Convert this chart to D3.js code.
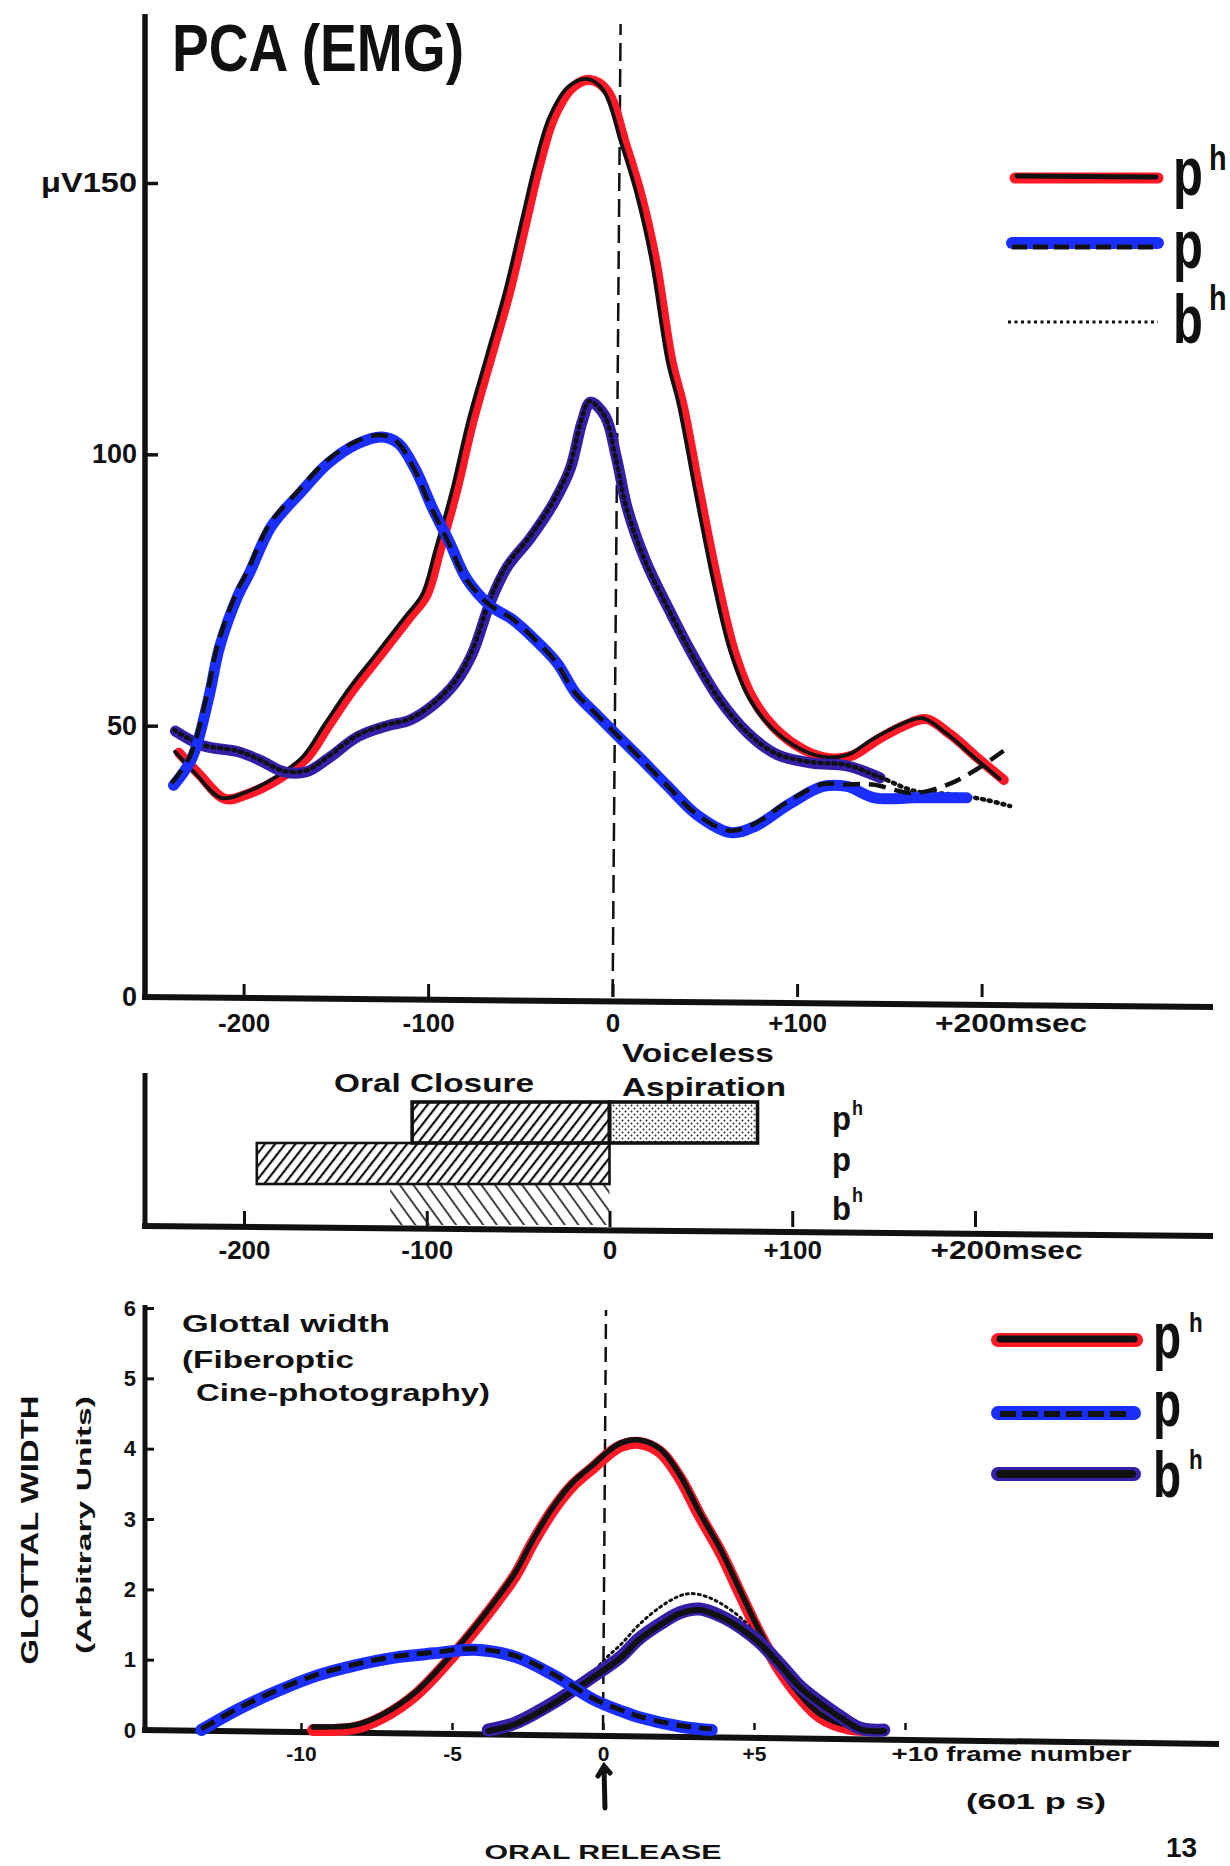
<!DOCTYPE html>
<html>
<head>
<meta charset="utf-8">
<title>PCA (EMG) and glottal width</title>
<script src="https://d3js.org/d3.v7.min.js"></script>
<style>
  body { margin: 0; background: #fff; }
  svg text { font-family: "Liberation Sans", Arial, sans-serif; font-weight: bold; fill: #111; }
</style>
</head>
<body>
<svg id="fig"></svg>
<script>

// ---- top panel: PCA EMG, time re oral release (msec) vs microvolts
var emgXTicks = [-200, -100, 0, 100, 200]
var emgXLabels = ['-200', '-100', '0', '+100', '+200msec']
var emgYTicks = [0, 50, 100, 150]
var emgYLabels = ['0', '50', '100', 'μV150']

var emgPh = [[-235,45],[-224,41],[-210,36.5],[-197,37.5],[-182,40],[-166,44],[-154,50],[-141,56.5],
  [-126,63],[-110,70],[-101,74],[-94,82],[-85,93],[-76,106],[-66,118],[-56,130],[-47,143],[-40,153],
  [-32,162],[-22,167.5],[-12,169],[-3,167],[7,157],[15,148],[23,136],[32,117],[38,109],[47,93],
  [57,76],[66,63.5],[76,55],[88,49.5],[104,45.5],[118,44],[130,44.5],[143,47.3],[158,50],[170,51.2],
  [183,48.4],[198,44],[212,40]]

var emgP = [[-238,39],[-228,44],[-219,55],[-213,64.5],[-203,74],[-197,78],[-185,86.7],[-169,93],
  [-154,98.4],[-138,102],[-125,103.2],[-116,102],[-107,97.3],[-97.5,90],[-88,83.5],[-79,77],[-66,72],
  [-54,69.5],[-41,65.5],[-30,61.5],[-20,56],[-10,52.5],[2,48.4],[15,44],[30,38.8],[46,33.5],[64,30.3],
  [77,31.4],[96,35.6],[114,38.8],[127,38.8],[142,36.7],[164,36.7],[192,36.7]]

// the dashed ink of p leaves the blue trace at the right end
var emgPTail = [[142,38.8],[164,37.2],[183,38.8],[198,41.5],[213,45]]

var emgBh = [[-237,49],[-222,46.3],[-203,45.2],[-191,43.6],[-178,41.5],[-166,41.5],[-154,44],[-138,48],
  [-122,50],[-110,51],[-97.5,53.7],[-85,58],[-76,63.3],[-66,73],[-57,79.3],[-44.5,84.6],[-32,91],
  [-23,97.3],[-16.5,106],[-12,109.6],[-4,107],[2,99.5],[8,90],[18,80.3],[30,71.8],[43,63.3],[58,54.8],
  [74,48.4],[89,44.7],[108,43.1],[127,42.6],[145,40.4],[164,37.8],[183,37.2],[202,36.2],[216,35]]

// ---- middle panel: oral closure / voiceless aspiration (msec)
var rowBase = ['p', 'p', 'b']
var rowSup = ['h', '', 'h']
var closureStart = [-108, -193, -120]
var aspirationEnd = [81, 0, 0]
var barXTicks = [-200, -100, 0, 100, 200]
var barXLabels = ['-200', '-100', '0', '+100', '+200msec']

// ---- bottom panel: glottal width vs frame number
var glotXTicks = [-10, -5, 0, 5, 10]
var glotXLabels = ['-10', '-5', '0', '+5', '+10 frame number']
var glotYTicks = [0, 1, 2, 3, 4, 5, 6]

var glotPh = [[-9.6,0],[-8.2,0.03],[-7.3,0.18],[-6.2,0.5],[-4.9,1.09],[-3.6,1.78],[-2.9,2.2],[-2.3,2.68],
  [-1.6,3.16],[-1.0,3.48],[-0.3,3.74],[0.2,3.93],[0.6,4.04],[1.2,4.08],[1.9,3.95],[2.55,3.58],[3.2,3.05],
  [3.9,2.52],[4.55,1.93],[5.2,1.35],[5.9,0.82],[6.55,0.45],[7.2,0.18],[8.15,0.02],[9.2,0]]

var glotP = [[-13.3,0],[-12.1,0.29],[-10.8,0.55],[-9.5,0.77],[-8.2,0.92],[-6.9,1.03],[-5.6,1.09],
  [-4.25,1.14],[-2.9,1.04],[-1.6,0.77],[-0.3,0.43],[0.6,0.27],[1.2,0.18],[2.55,0.05],[3.6,0]]

var glotBh = [[-3.8,0],[-2.9,0.1],[-1.6,0.4],[-0.3,0.77],[0.56,1.03],[1.2,1.3],[1.9,1.51],[2.55,1.67],
  [3.2,1.72],[3.9,1.62],[4.55,1.46],[5.2,1.24],[5.9,0.92],[6.55,0.61],[7.2,0.39],[7.9,0.18],[8.55,0.02],[9.3,0]]

var glotBhDots = [[-0.5,0.72],[0,0.98],[0.6,1.22],[1.2,1.5],[1.9,1.75],[2.5,1.9],[2.9,1.94],[3.4,1.9],
  [3.9,1.8],[4.6,1.58],[5.2,1.3]]


var RED = '#ff1826'
var BLUE = '#1a2eff'
var PURPLE = '#3320a8'

var svg = d3.select('#fig')
  .attr('width', 1230)
  .attr('height', 1866)
  .style('display', 'block')

svg.append('rect').attr('width', 1230).attr('height', 1866).attr('fill', '#fff')

var defs = svg.append('defs')

defs.append('pattern').attr('id', 'hatch')
  .attr('patternUnits', 'userSpaceOnUse').attr('width', 8).attr('height', 8)
  .attr('patternTransform', 'rotate(38)')
  .append('line').attr('x1', 1).attr('y1', 0).attr('x2', 1).attr('y2', 8)
  .attr('stroke', '#111').attr('stroke-width', 2.4)

defs.append('pattern').attr('id', 'hatchLight')
  .attr('patternUnits', 'userSpaceOnUse').attr('width', 11).attr('height', 11)
  .attr('patternTransform', 'rotate(-36)')
  .append('line').attr('x1', 1).attr('y1', 0).attr('x2', 1).attr('y2', 11)
  .attr('stroke', '#222').attr('stroke-width', 1.7)

var dots = defs.append('pattern').attr('id', 'dots')
  .attr('patternUnits', 'userSpaceOnUse').attr('width', 6).attr('height', 6)
dots.append('circle').attr('cx', 1.5).attr('cy', 1.5).attr('r', 0.95).attr('fill', '#222')
dots.append('circle').attr('cx', 4.5).attr('cy', 4.5).attr('r', 0.95).attr('fill', '#222')


function label(g, x, y, str, size, len, anchor) {
  var t = g.append('text')
    .attr('x', x).attr('y', y)
    .attr('font-size', size)
    .attr('text-anchor', anchor || 'start')
    .text(str)
  if (len) t.attr('textLength', len).attr('lengthAdjust', 'spacingAndGlyphs')
  return t
}

function trace(g, data, x, y, color, width, dash, dx, dy) {
  var line = d3.line()
    .x((d) => x(d[0]))
    .y((d) => y(d[1]))
    .curve(d3.curveCatmullRom.alpha(0.5))
  var p = g.append('path')
    .attr('d', line(data))
    .attr('fill', 'none')
    .attr('stroke', color)
    .attr('stroke-width', width)
    .attr('stroke-linejoin', 'round')
    .attr('stroke-linecap', dash ? 'butt' : 'round')
  if (dash) p.attr('stroke-dasharray', dash)
  if (dx || dy) p.attr('transform', 'translate(' + (dx || 0) + ',' + (dy || 0) + ')')
  return p
}

function rule(g, x1, y1, x2, y2, w, dash) {
  var l = g.append('line')
    .attr('x1', x1).attr('y1', y1).attr('x2', x2).attr('y2', y2)
    .attr('stroke', '#111').attr('stroke-width', w)
  if (dash) l.attr('stroke-dasharray', dash)
  return l
}

// big narrow legend letter with a raised h (squeezed by a scale, not textLength)
function legendLetter(g, x, y, base, size, sup, supSize, supDx, supDy) {
  g.append('text')
    .attr('transform', 'translate(' + x + ',' + y + ') scale(0.72,1)')
    .attr('font-size', size)
    .text(base)
  if (sup) {
    g.append('text')
      .attr('transform', 'translate(' + (x + supDx) + ',' + (y + supDy) + ') scale(0.8,1)')
      .attr('font-size', supSize)
      .text(sup)
  }
}


// ================= top panel =================
var emgG = svg.append('g')
var x1 = d3.scaleLinear().domain([-200, 200]).range([243.6, 981.6])
var y1 = d3.scaleLinear().domain([0, 150]).range([997, 183])

var xAxis1 = emgG.append('g')
  .attr('transform', 'translate(0,' + y1(0) + ')')
  .call(d3.axisBottom(x1).tickValues(emgXTicks).tickSize(-13).tickPadding(17)
    .tickFormat((d, i) => emgXLabels[i]))
xAxis1.select('.domain').remove()
xAxis1.selectAll('line').attr('stroke', '#111').attr('stroke-width', 3)
xAxis1.selectAll('text').attr('font-size', 26).attr('fill', '#111')
  .attr('font-family', null)
xAxis1.selectAll('text').filter((d) => d === 200)
  .attr('text-anchor', 'start').attr('x', -47)
  .attr('textLength', 152).attr('lengthAdjust', 'spacingAndGlyphs')

var yAxis1 = emgG.append('g')
  .attr('transform', 'translate(145,0)')
  .call(d3.axisLeft(y1).tickValues(emgYTicks).tickSize(-13).tickPadding(8)
    .tickFormat((d, i) => emgYLabels[i]))
yAxis1.select('.domain').remove()
yAxis1.selectAll('line').attr('stroke', '#111').attr('stroke-width', 3.5)
yAxis1.selectAll('text').attr('font-size', 27).attr('fill', '#111').attr('font-family', null)
yAxis1.selectAll('text').filter((d) => d === 150)
  .attr('textLength', 96).attr('lengthAdjust', 'spacingAndGlyphs')

rule(emgG, 145, 14, 145, 1000, 5.5)
rule(emgG, 142, 997, 1213, 1007, 6)
// oral release reference
rule(emgG, x1(0), y1(0), x1(0) + 8, 24, 2.5, '18,8')

label(emgG, 172, 71, 'PCA (EMG)', 66, 292)

trace(emgG, emgPh, x1, y1, RED, 10)
trace(emgG, emgPh, x1, y1, '#111', 3.8, null, -4, -1)
trace(emgG, emgBh.filter((d) => d[0] <= 150), x1, y1, PURPLE, 11)
trace(emgG, emgBh, x1, y1, '#111', 4.5, '2,5', -1, -1).attr('stroke-linecap', 'round')
trace(emgG, emgP, x1, y1, BLUE, 11)
trace(emgG, emgP.filter((d) => d[0] <= 127).concat(emgPTail), x1, y1, '#111', 4.5, '17,9', -2, -2)

// legend
var lg1 = emgG.append('g')
rule(lg1, 1015, 178, 1158, 178, 11).attr('stroke', RED).attr('stroke-linecap', 'round')
rule(lg1, 1017, 176, 1156, 177, 5).attr('stroke-linecap', 'round')
rule(lg1, 1012, 243, 1158, 243, 12).attr('stroke', BLUE).attr('stroke-linecap', 'round')
rule(lg1, 1012, 247, 1158, 247, 5, '15,6')
rule(lg1, 1008, 322, 1158, 322, 3.2, '3,3.5')
legendLetter(lg1, 1173, 195, 'p', 68, 'h', 36, 36, -25)
legendLetter(lg1, 1173, 268, 'p', 68, '', 0, 0, 0)
legendLetter(lg1, 1173, 343, 'b', 68, 'h', 36, 36, -33)


// ================= middle panel =================
var barG = svg.append('g')
var x2 = d3.scaleLinear().domain([-200, 200]).range([244, 975])
var y2 = d3.scaleBand().domain([0, 1, 2]).range([1102, 1225])

var xAxis2 = barG.append('g')
  .attr('transform', 'translate(0,1227)')
  .call(d3.axisBottom(x2).tickValues(barXTicks).tickSize(-16).tickPadding(14)
    .tickFormat((d, i) => barXLabels[i]))
xAxis2.select('.domain').remove()
xAxis2.selectAll('line').attr('stroke', '#111').attr('stroke-width', 3)
xAxis2.selectAll('text').attr('font-size', 26).attr('fill', '#111').attr('font-family', null)
xAxis2.selectAll('text').filter((d) => d === 200)
  .attr('text-anchor', 'start').attr('x', -45)
  .attr('textLength', 152).attr('lengthAdjust', 'spacingAndGlyphs')

// b^h closure: light reverse hatching, unframed
barG.append('rect')
  .attr('x', x2(closureStart[2])).attr('y', y2(2))
  .attr('width', x2(0) - x2(closureStart[2])).attr('height', y2.bandwidth())
  .attr('fill', 'url(#hatchLight)')
barG.append('rect')
  .attr('x', x2(closureStart[1])).attr('y', y2(1))
  .attr('width', x2(0) - x2(closureStart[1])).attr('height', y2.bandwidth())
  .attr('fill', 'url(#hatch)').attr('stroke', '#111').attr('stroke-width', 2.6)
barG.append('rect')
  .attr('x', x2(closureStart[0])).attr('y', y2(0))
  .attr('width', x2(0) - x2(closureStart[0])).attr('height', y2.bandwidth())
  .attr('fill', 'url(#hatch)').attr('stroke', '#111').attr('stroke-width', 3.6)
barG.append('rect')
  .attr('x', x2(0)).attr('y', y2(0))
  .attr('width', x2(aspirationEnd[0]) - x2(0)).attr('height', y2.bandwidth())
  .attr('fill', 'url(#dots)').attr('stroke', '#111').attr('stroke-width', 3.6)

rule(barG, 145, 1073, 145, 1229, 5)
rule(barG, 142, 1226, 1213, 1236, 6)

label(barG, 334, 1092, 'Oral Closure', 25, 200)
label(barG, 622, 1062, 'Voiceless', 25, 152)
label(barG, 622, 1096, 'Aspiration', 25, 164)

rowBase.forEach((b, i) => {
  var yy = y2(i) + y2.bandwidth() / 2
  var base = b === 'b' ? yy + 15 : yy + 7
  label(barG, 832, base, b, 34, 19)
  if (rowSup[i]) label(barG, 852, base - (b === 'b' ? 18 : 15), rowSup[i], 21, 11)
})


// ================= bottom panel =================
var glotG = svg.append('g')
var x3 = d3.scaleLinear().domain([-10, 10]).range([301, 905])
var y3 = d3.scaleLinear().domain([0, 6]).range([1730, 1308])

var xAxis3 = glotG.append('g')
  .attr('transform', 'translate(0,' + y3(0) + ')')
  .call(d3.axisBottom(x3).tickValues(glotXTicks).tickSize(-7).tickPadding(16)
    .tickFormat((d, i) => glotXLabels[i]))
xAxis3.select('.domain').remove()
xAxis3.selectAll('line').attr('stroke', '#111').attr('stroke-width', 2.5)
xAxis3.selectAll('text').attr('font-size', 21).attr('fill', '#111').attr('font-family', null)
  .attr('font-weight', 'normal')
xAxis3.selectAll('text').filter((d) => d === 10)
  .attr('text-anchor', 'start').attr('x', -14).attr('font-weight', 'bold')
  .attr('textLength', 240).attr('lengthAdjust', 'spacingAndGlyphs')

var yAxis3 = glotG.append('g')
  .attr('transform', 'translate(145,0)')
  .call(d3.axisLeft(y3).tickValues(glotYTicks).tickSize(-9).tickPadding(9)
    .tickFormat(d3.format('d')))
yAxis3.select('.domain').remove()
yAxis3.selectAll('line').attr('stroke', '#111').attr('stroke-width', 3)
yAxis3.selectAll('text').attr('font-size', 22).attr('fill', '#111').attr('font-family', null)
  .attr('font-weight', 'normal')

rule(glotG, 145, 1305, 145, 1733, 5)
rule(glotG, 142, 1730, 1219, 1744, 6)
rule(glotG, x3(0), y3(0), x3(0) + 3, 1310, 2.5, '15,8')

label(glotG, 182, 1332, 'Glottal width', 24, 208)
label(glotG, 182, 1368, '(Fiberoptic', 24, 172)
label(glotG, 196, 1401, 'Cine-photography)', 24, 294)

label(glotG, 0, 0, 'GLOTTAL WIDTH', 23, 269, 'middle')
  .attr('transform', 'translate(38,1530) rotate(-90)')
label(glotG, 0, 0, '(Arbitrary Units)', 21, 258, 'middle')
  .attr('transform', 'translate(91,1525) rotate(-90)')

label(glotG, 966, 1809, '(601 p s)', 22, 140)

// oral release marker
glotG.append('path')
  .attr('d', 'M' + (x3(0) + 2) + ',1808 L' + (x3(0) + 1) + ',1768 M' + (x3(0) - 5) + ',1776 L' + (x3(0) + 1) + ',1766 L' + (x3(0) + 7) + ',1773')
  .attr('fill', 'none').attr('stroke', '#111').attr('stroke-width', 5).attr('stroke-linecap', 'round')
label(glotG, x3(0), 1859, 'ORAL RELEASE', 21, 237, 'middle')

trace(glotG, glotPh, x3, y3, RED, 12)
trace(glotG, glotPh, x3, y3, '#111', 5.5, null, 0, -3)
trace(glotG, glotBhDots, x3, y3, '#111', 3, '2,4', 0, 0).attr('stroke-linecap', 'round')
trace(glotG, glotBh, x3, y3, PURPLE, 13)
trace(glotG, glotBh, x3, y3, '#111', 6, null, 0, 1)
trace(glotG, glotP, x3, y3, BLUE, 12)
trace(glotG, glotP, x3, y3, '#111', 5, '15,8', 0, -1)

var lg3 = glotG.append('g')
rule(lg3, 998, 1340, 1136, 1340, 14).attr('stroke', RED).attr('stroke-linecap', 'round')
rule(lg3, 1000, 1339, 1134, 1339, 7).attr('stroke-linecap', 'round')
rule(lg3, 998, 1413, 1134, 1413, 14).attr('stroke', BLUE).attr('stroke-linecap', 'round')
rule(lg3, 1000, 1414, 1132, 1414, 6, '16,6')
rule(lg3, 998, 1474, 1134, 1474, 14).attr('stroke', PURPLE).attr('stroke-linecap', 'round')
rule(lg3, 1000, 1474, 1132, 1474, 8).attr('stroke-linecap', 'round')
legendLetter(lg3, 1153, 1358, 'p', 64, 'h', 28, 36, -26)
legendLetter(lg3, 1153, 1426, 'p', 64, '', 0, 0, 0)
legendLetter(lg3, 1153, 1497, 'b', 64, 'h', 28, 36, -28)

// page number at the foot of the scan
label(svg, 1166, 1857, '13', 28, null).attr('font-weight', 'normal')

</script>
</body>
</html>
